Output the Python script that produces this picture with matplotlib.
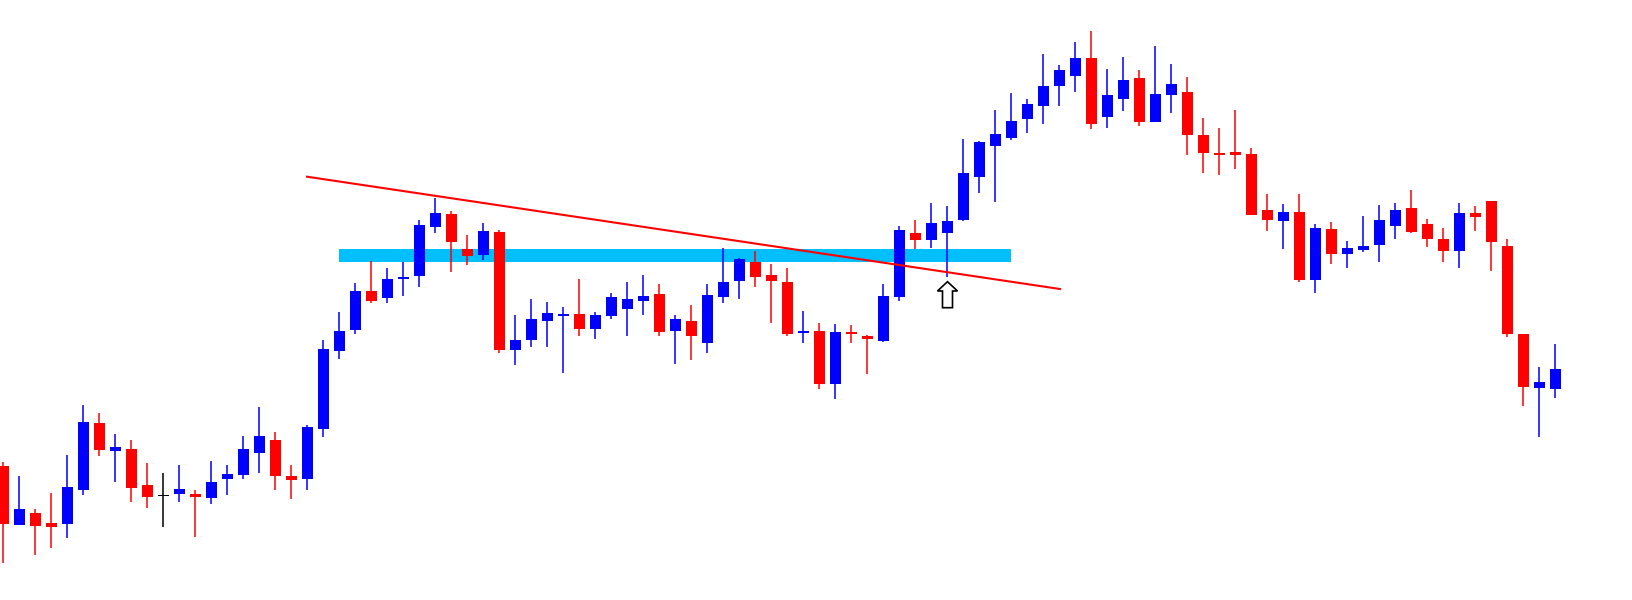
import numpy as np
import matplotlib
matplotlib.use('Agg')
import matplotlib.pyplot as plt
from matplotlib.patches import Polygon, Rectangle

# OHLC values (price units, bigger = higher)
opens = [134, 75.3, 87, 77, 76.3, 110.3, 177, 149.3, 151, 115,
         103.7, 106.3, 106, 102.3, 121.3, 125.3, 147.3, 160, 124, 121.3,
         171.3, 249.3, 270.3, 309, 302.3, 321.3, 324.3, 373.3, 386, 351,
         345.3, 368, 250.3, 260.3, 279.3, 284.3, 286, 271.3, 284.3, 291.3,
         299.3, 306, 269.3, 279, 257.3, 303.3, 319.3, 338, 325, 318,
         267, 269, 216.3, 268, 264.3, 259.3, 303.3, 367, 360.3, 367.3,
         380, 423.3, 454.3, 462.3, 481.3, 494.3, 514.3, 524.3, 542, 483.3,
         501.3, 522, 478.3, 505.3, 508, 465, 447, 448, 446, 390,
         379.3, 388, 320.3, 371, 346.3, 350.3, 355.3, 374.3, 392, 376,
         361, 349.3, 387, 399, 354, 266, 212.3, 211.3]
highs = [138, 124, 91, 107, 145, 195, 187, 166, 160, 137,
         127, 135, 110, 139.3, 135, 164, 193, 168, 134.7, 175,
         260, 288, 317, 339, 332, 338.3, 380, 402, 389, 365,
         377, 370, 285, 301, 298, 293, 321, 288, 307, 318,
         325, 316, 285, 295, 316, 352, 342, 349, 336, 332,
         289, 277, 276, 275, 265.3, 316, 374, 380, 397, 394,
         461, 459, 490, 507, 501, 546, 535, 558, 569, 531,
         543, 530, 554, 536, 523, 482, 472, 490, 452, 406,
         396, 406, 376.3, 378, 359, 384, 395, 397, 410, 381,
         372, 397, 394, 399, 361, 266, 233, 256]
lows = [37.3, 75.3, 45.3, 52.3, 62.3, 105.3, 144.3, 118.3, 98.3, 92.3,
        73.3, 98.3, 63.3, 96.3, 105.3, 121.3, 127.3, 110.3, 100.7, 110.3,
        163.3, 241.3, 266.3, 297.3, 297.3, 304.3, 313.3, 367.3, 328.3, 335.3,
        340, 247.3, 235.3, 253.3, 253.3, 227.3, 264.3, 261.3, 281.3, 264.3,
        285.3, 264.3, 236.3, 240.3, 247.3, 297.3, 301.3, 313.3, 277.3, 264.3,
        257.3, 211.3, 201.3, 257.3, 226.3, 258.3, 299.3, 351.3, 352.3, 322.7,
        379, 407.3, 398.3, 460.3, 467.3, 476.3, 494.3, 508.3, 471.3, 472.3,
        489.3, 474.3, 478.3, 487.3, 445.3, 427.3, 425.3, 431.3, 385.3, 369.3,
        351.3, 318.3, 307.3, 336.3, 332.3, 348.3, 338.3, 361.3, 367.3, 353.3,
        338.3, 332.3, 369.3, 329.3, 263.3, 194.3, 163.3, 202.3]
closes = [76.3, 91, 74.3, 73.3, 113, 178, 150.3, 153, 112.3, 103.3,
          103.7, 111, 103.3, 118, 126, 151, 164, 124.3, 120.3, 173,
          251, 269, 309, 299.3, 321, 323, 375, 387, 358.3, 344.3,
          369, 250.3, 260, 281, 287, 286, 271.3, 285, 303, 301,
          304, 268.3, 281, 264.3, 305, 318, 341, 323.3, 319.3, 266.3,
          269, 216.3, 268, 266.3, 261.3, 304, 370, 360.3, 377, 379,
          427, 458, 466, 479, 496, 514, 530, 542, 476.3, 505,
          520, 478.3, 506, 516, 465.3, 447.3, 445.3, 445.3, 385.3, 380.3,
          388, 320.3, 372, 346.3, 352, 354, 380, 390, 368.3, 361.3,
          349.3, 387, 383.3, 358.3, 266.3, 213.3, 218, 231]

# support zone (cyan band), trend line and the arrow under the breakout candle
zone_low, zone_high = 338.3, 351
trend_x = [18.97, 66.03]
trend_y = [423.3, 311]
arrow_candle, arrow_tip = 59, 318.3

n = len(opens)
idx = np.arange(n)
o = np.array(opens); c = np.array(closes)
h = np.array(highs); l = np.array(lows)

colors = np.where(c > o, '#0000FF', np.where(c < o, '#FF0000', '#000000'))

fig = plt.figure(figsize=(16.33, 6.0), dpi=100, facecolor='white')
ax = fig.add_axes([0, 0, 1, 1])
ax.set_xlim(-3.5/16, (1633-3.5)/16)  # one candle every 16 px
ax.set_ylim(0, 600)
ax.axis('off')

# cyan zone behind the candles
ax.add_patch(Rectangle((20.97, zone_low), 62.95-20.97, zone_high-zone_low,
                       facecolor='#00BFFF', edgecolor='none', zorder=1))

# wicks and bodies
ax.vlines(idx, l, h, colors=colors, linewidth=1.1, zorder=2)
body_bottom = np.minimum(o, c)
body_height = np.maximum(np.abs(c - o), 1.2)
ax.bar(idx, body_height, width=11/16, bottom=body_bottom, color=colors,
       linewidth=0, zorder=3)

# red trend line on top
ax.plot(trend_x, trend_y, color='#FF0000', linewidth=1.5, zorder=4)

# hollow up arrow (sizes in px converted to data units)
px = 1/16
ax_pts = [(0, 0), (10*px, -9.3), (5*px, -9.3), (5*px, -26), (-5*px, -26),
          (-5*px, -9.3), (-10*px, -9.3)]
ax.add_patch(Polygon([(arrow_candle + dx, arrow_tip + dy) for dx, dy in ax_pts],
                     closed=True, facecolor='white', edgecolor='black',
                     linewidth=1.2, zorder=5))

plt.savefig('out.png', dpi=100, facecolor='white')
